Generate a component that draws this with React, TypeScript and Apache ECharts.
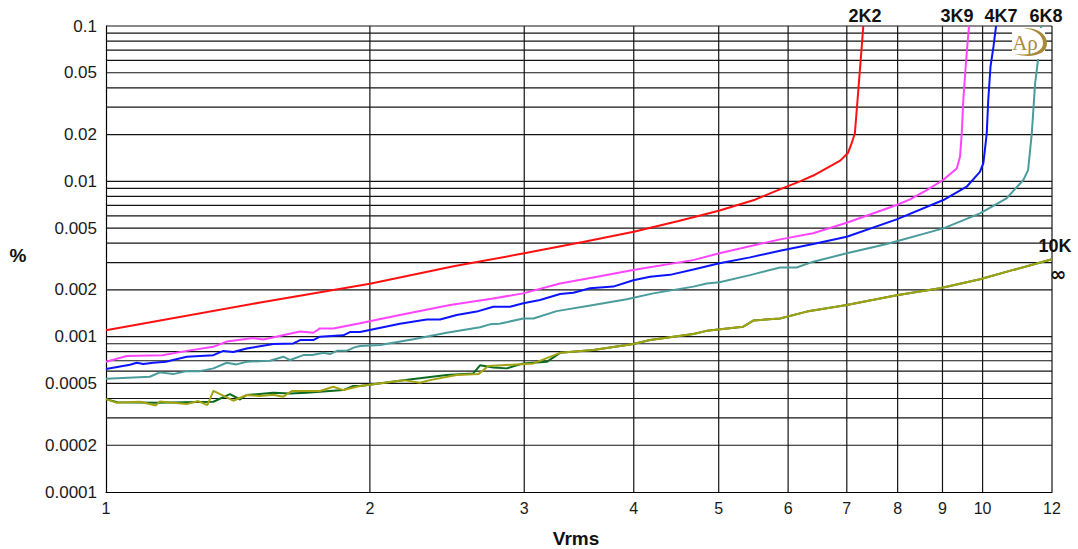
import { useEffect, useRef } from "react";
import * as echarts from "echarts";

// Axis ticks and grid values
const vrmsTicks = [1, 2, 3, 4, 5, 6, 7, 8, 9, 10, 12];
const vrmsGrid = [2, 3, 4, 5, 6, 7, 8, 9, 10, 12];
const vrmsRange = [1, 12];
const pctTicks = [0.0001, 0.0002, 0.0005, 0.001, 0.002, 0.005, 0.01, 0.02, 0.05, 0.1];
const pctGrid = [
  0.0002, 0.0003, 0.0004, 0.0005, 0.0006, 0.0007, 0.0008, 0.0009,
  0.001, 0.002, 0.003, 0.004, 0.005, 0.006, 0.007, 0.008, 0.009,
  0.01, 0.02, 0.03, 0.04, 0.05, 0.06, 0.07, 0.08, 0.09, 0.1,
];
const pctRange = [0.0001, 0.1];

// THD+N (%) versus output level (Vrms) for each load
const load2K2V = [1, 1.5, 2, 2.5, 3, 3.5, 4, 4.5, 5, 5.5, 5.87, 6.19, 6.41, 6.88, 7.02, 7.09, 7.15, 7.2, 7.25, 7.28, 7.31];
const load2K2Pct = [0.0011, 0.00166, 0.00219, 0.00285, 0.00344, 0.00407, 0.00474, 0.00556, 0.00647, 0.00762, 0.00888, 0.01, 0.0109, 0.0136, 0.0152, 0.0176, 0.0204, 0.0334, 0.0547, 0.0736, 0.1];

const load3K9V = [1, 1.056, 1.16, 1.236, 1.325, 1.373, 1.472, 1.512, 1.665, 1.724, 1.754, 1.817, 1.949, 2.164, 2.469, 2.764, 2.991, 3.296, 3.633, 3.993, 4.674, 5.01, 5.874, 6.406, 6.998, 7.98, 8.265, 8.636, 9.013, 9.344, 9.424, 9.467, 9.506, 9.565, 9.605, 9.65];
const load3K9Pct = [0.00069, 0.00075, 0.00076, 0.00081, 0.00086, 0.00093, 0.00098, 0.00096, 0.00108, 0.00106, 0.00113, 0.00113, 0.00122, 0.00138, 0.0016, 0.00176, 0.0019, 0.0022, 0.00243, 0.00269, 0.00311, 0.00344, 0.00423, 0.00463, 0.00541, 0.00704, 0.00766, 0.00879, 0.0102, 0.0121, 0.0144, 0.0204, 0.0334, 0.0547, 0.0736, 0.1];

const load4K7V = [1, 1.065, 1.084, 1.103, 1.132, 1.17, 1.236, 1.326, 1.361, 1.397, 1.447, 1.552, 1.636, 1.665, 1.724, 1.754, 1.865, 1.898, 1.949, 2.164, 2.322, 2.405, 2.512, 2.648, 2.766, 2.89, 2.993, 3.127, 3.296, 3.413, 3.566, 3.79, 3.996, 4.174, 4.399, 4.678, 5.01, 5.429, 5.874, 6.41, 7.0, 7.98, 9.02, 9.59, 9.93, 10.02, 10.06, 10.11, 10.15, 10.21, 10.29, 10.36];
const load4K7Pct = [0.00062, 0.00066, 0.00068, 0.000666, 0.00068, 0.00069, 0.000743, 0.00076, 0.00081, 0.000796, 0.00084, 0.000896, 0.000905, 0.000951, 0.000951, 0.001, 0.00102, 0.00107, 0.00107, 0.00121, 0.00129, 0.00129, 0.00138, 0.00145, 0.00156, 0.00156, 0.00164, 0.00172, 0.00188, 0.00192, 0.00205, 0.0021, 0.00231, 0.00243, 0.0025, 0.00271, 0.00297, 0.00324, 0.00357, 0.00395, 0.0044, 0.00569, 0.00758, 0.00923, 0.0115, 0.0131, 0.0159, 0.0204, 0.0334, 0.0547, 0.0736, 0.1];

const load6K8V = [1, 1.122, 1.152, 1.193, 1.236, 1.28, 1.326, 1.373, 1.409, 1.447, 1.538, 1.593, 1.622, 1.679, 1.72, 1.77, 1.801, 1.834, 1.881, 1.92, 1.949, 2.054, 2.242, 2.447, 2.671, 2.742, 2.81, 2.993, 3.073, 3.267, 3.597, 3.927, 4.21, 4.678, 4.845, 5.01, 5.429, 5.874, 6.136, 6.41, 7.0, 7.775, 9.02, 9.932, 10.65, 11.13, 11.27, 11.38, 11.48, 11.58, 11.66];
const load6K8Pct = [0.000536, 0.000552, 0.000589, 0.000574, 0.0006, 0.0006, 0.000625, 0.000679, 0.000663, 0.000689, 0.0007, 0.000743, 0.000707, 0.000761, 0.000761, 0.000787, 0.000773, 0.000811, 0.000811, 0.000853, 0.00087, 0.000883, 0.000961, 0.00106, 0.00115, 0.0012, 0.00121, 0.00131, 0.00131, 0.00146, 0.0016, 0.00174, 0.0019, 0.0021, 0.0022, 0.00224, 0.00249, 0.00279, 0.00279, 0.00304, 0.00344, 0.00395, 0.00498, 0.00622, 0.00777, 0.0102, 0.0118, 0.0204, 0.0428, 0.0634, 0.1];

const load10KV = [1, 1.03, 1.142, 1.326, 1.385, 1.422, 1.447, 1.552, 1.622, 1.694, 1.754, 1.865, 1.915, 1.949, 2.184, 2.447, 2.624, 2.671, 2.766, 2.865, 2.993, 3.183, 3.296, 3.597, 3.996, 4.174, 4.678, 4.845, 5.333, 5.475, 5.874, 6.3, 7.0, 7.98, 8.94, 9.93, 10.84, 12];
const load10KPct = [0.000396, 0.000378, 0.000375, 0.000381, 0.000427, 0.000394, 0.000421, 0.000435, 0.000431, 0.000435, 0.000442, 0.000453, 0.000481, 0.000481, 0.000525, 0.000566, 0.00058, 0.000654, 0.000634, 0.000625, 0.000673, 0.000689, 0.000787, 0.00082, 0.000896, 0.000951, 0.00104, 0.00109, 0.00116, 0.00127, 0.00131, 0.00145, 0.0016, 0.00185, 0.00205, 0.00234, 0.00269, 0.00315];

const loadOpenV = [1, 1.029, 1.093, 1.14, 1.152, 1.236, 1.274, 1.305, 1.326, 1.397, 1.447, 1.498, 1.552, 1.593, 1.629, 1.754, 1.817, 1.865, 1.949, 2.184, 2.281, 2.342, 2.512, 2.66, 2.73, 3.073, 3.296, 3.597, 3.996, 4.174, 4.678, 4.845, 5.333, 5.475, 5.874, 6.3, 7.0, 7.98, 8.94, 9.93, 10.84, 12];
const loadOpenPct = [0.000396, 0.000375, 0.000381, 0.000361, 0.000383, 0.000368, 0.000385, 0.000362, 0.000448, 0.000387, 0.000421, 0.000415, 0.000423, 0.000411, 0.000447, 0.000447, 0.000476, 0.000453, 0.000481, 0.000525, 0.000505, 0.000525, 0.000566, 0.000574, 0.000647, 0.000673, 0.000787, 0.00082, 0.000896, 0.000951, 0.00104, 0.00109, 0.00116, 0.00127, 0.00131, 0.00145, 0.0016, 0.00185, 0.00205, 0.00234, 0.00269, 0.00315];

const curves = [
  { name: "2K2", color: "#ff1010", v: load2K2V, p: load2K2Pct },
  { name: "3K9", color: "#ff44ff", v: load3K9V, p: load3K9Pct },
  { name: "4K7", color: "#0a14ff", v: load4K7V, p: load4K7Pct },
  { name: "6K8", color: "#4a9c9c", v: load6K8V, p: load6K8Pct },
  { name: "10K", color: "#0b6b1e", v: load10KV, p: load10KPct },
  { name: "∞", color: "#a3a312", v: loadOpenV, p: loadOpenPct },
];

const FONT = "'Liberation Sans', Arial, sans-serif";
const GOLD = "#a98a3c";
const GRID_COLOR = "#141414";

// Audio Precision style swoosh around the logo letters
echarts.graphic.registerShape(
  "apSwoosh",
  echarts.graphic.extendPath(
    "M -5 -14.6 C 9 -16 18.5 -8 18 1 C 17.5 11 3 16.5 -16 10.5 C 1 13.5 13.5 9 14 1 C 14.5 -8 6 -14 -5 -14.6 Z",
    {}
  )
);

export default function App() {
  const ref = useRef<HTMLDivElement>(null);

  useEffect(() => {
    if (!ref.current) return;
    const chart = echarts.init(ref.current, null, { renderer: "svg" });

    const fmt = (v: number) => String(Number(Number(v).toPrecision(1)));

    const gridLine = (data: number[][]) => ({
      type: "line",
      data,
      symbol: "none",
      silent: true,
      z: 1,
      clip: false,
      lineStyle: { color: GRID_COLOR, width: 1.2 },
      emphasis: { disabled: true },
    });

    const series: any[] = [
      ...vrmsGrid.map((v) => gridLine(pctRange.map((p) => [v, p]))),
      ...pctGrid.map((p) => gridLine(vrmsRange.map((v) => [v, p]))),
      ...curves.map((c) => ({
        type: "line",
        name: c.name,
        data: c.v.map((v, i) => [v, c.p[i]]),
        symbol: "none",
        smooth: false,
        z: 3,
        clip: true,
        lineStyle: { color: c.color, width: 2 },
        itemStyle: { color: c.color },
      })),
    ];

    const curveLabels = [
      { text: "2K2", x: 865, y: 16 },
      { text: "3K9", x: 957, y: 16 },
      { text: "4K7", x: 1001, y: 16 },
      { text: "6K8", x: 1046, y: 16 },
      { text: "10K", x: 1055, y: 246 },
    ];

    chart.setOption({
      animation: false,
      backgroundColor: "#fff",
      grid: { left: 106, right: 26, top: 26, bottom: 57, containLabel: false },
      xAxis: {
        type: "log",
        logBase: 10,
        min: 1,
        max: 12,
        axisLine: { show: true, onZero: false, lineStyle: { color: "#000", width: 1.2 } },
        axisTick: { show: false },
        splitLine: { show: false },
        axisLabel: {
          customValues: vrmsTicks,
          formatter: (v: number) => String(Math.round(v)),
          color: "#1a1a1a",
          fontFamily: FONT,
          fontSize: 16,
          margin: 8,
        },
      },
      yAxis: {
        type: "log",
        logBase: 10,
        min: 0.0001,
        max: 0.1,
        axisLine: { show: true, onZero: false, lineStyle: { color: "#000", width: 1.2 } },
        axisTick: { show: false },
        splitLine: { show: false },
        axisLabel: {
          customValues: pctTicks,
          formatter: fmt,
          color: "#1a1a1a",
          fontFamily: FONT,
          fontSize: 17,
          margin: 9,
        },
      },
      series,
      graphic: [
        ...curveLabels.map((l) => ({
          type: "text",
          x: l.x,
          y: l.y,
          z: 100,
          style: {
            text: l.text,
            fill: "#111",
            font: `bold 18px ${FONT}`,
            align: "center",
            verticalAlign: "middle",
          },
        })),
        {
          type: "text",
          x: 1058,
          y: 274,
          z: 100,
          style: { text: "∞", fill: "#111", font: `bold 20px 'DejaVu Sans', ${FONT}`, align: "center", verticalAlign: "middle" },
        },
        {
          type: "text",
          x: 576,
          y: 538,
          z: 100,
          style: { text: "Vrms", fill: "#111", font: `bold 19px ${FONT}`, align: "center", verticalAlign: "middle" },
        },
        {
          type: "text",
          x: 18,
          y: 255,
          z: 100,
          style: { text: "%", fill: "#111", font: `bold 19px ${FONT}`, align: "center", verticalAlign: "middle" },
        },
        {
          type: "rect",
          z: 100,
          shape: { x: 1012, y: 28, width: 33, height: 31 },
          style: { fill: "#fff" },
        },
        {
          type: "apSwoosh",
          x: 1029,
          y: 43,
          z: 101,
          style: { fill: GOLD },
        },
        {
          type: "text",
          x: 1025,
          y: 43,
          z: 101,
          style: { text: "Aρ", fill: GOLD, font: `21px 'Liberation Serif', serif`, align: "center", verticalAlign: "middle" },
        },
      ],
    });

    return () => chart.dispose();
  }, []);

  return (
    <div
      ref={ref}
      style={{ position: "fixed", left: 0, top: 0, width: 1078, height: 549, background: "#fff" }}
    />
  );
}
